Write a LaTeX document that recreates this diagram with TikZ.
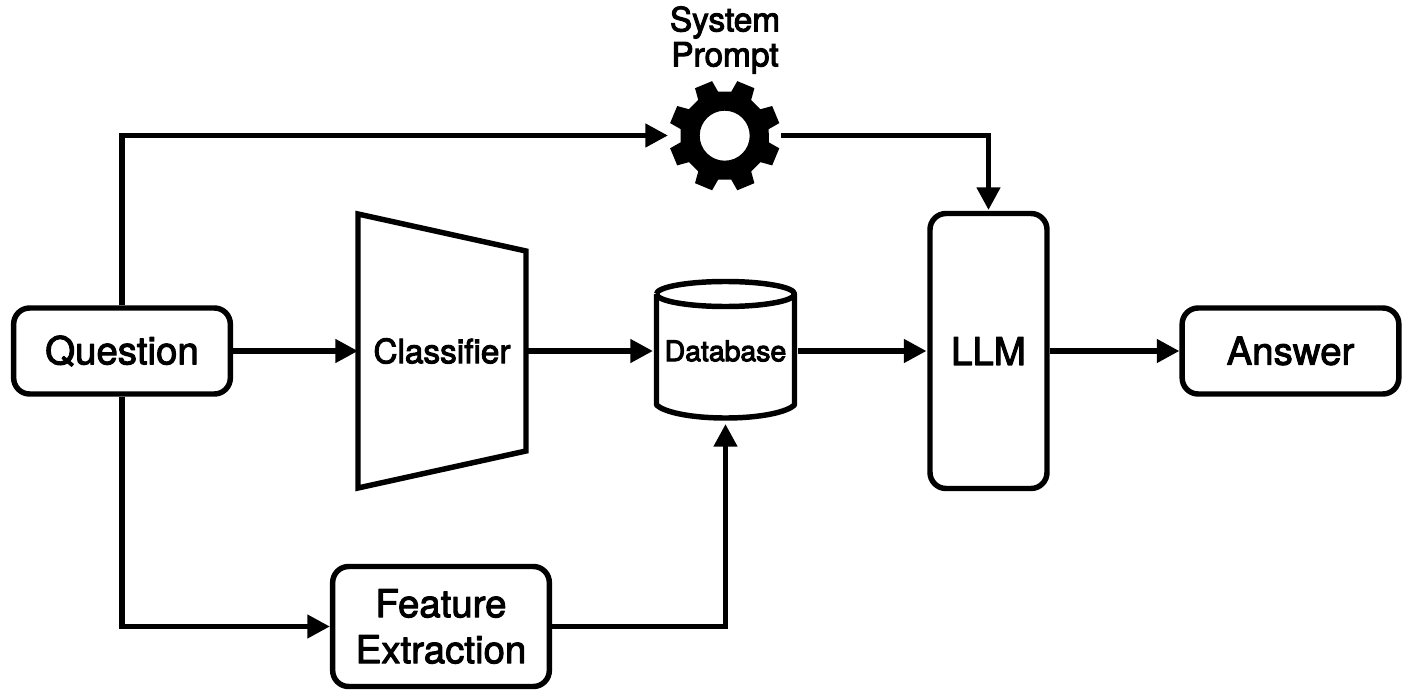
\documentclass[tikz,border=0pt]{standalone}
\usepackage{fontspec}
\setmainfont{TeX Gyre Heros}
\usetikzlibrary{arrows.meta,calc}
\newcommand{\medtext}{\special{pdf:literal 2 Tr 0.75 w}}
\tikzset{
  px/.style={x=0.75pt,y=-0.75pt},
  stroke/.style={line width=4.1pt,line join=round},
  box/.style={stroke,draw=black,rounded corners=12pt,inner sep=0pt,outer sep=2.05pt,align=center,font=\fontsize{28.8pt}{34.5pt}\selectfont\medtext},
  ghost/.style={inner sep=0pt,outer sep=0pt,align=center},
  conn/.style={stroke,line join=miter,-{Triangle[length=17pt,width=17pt]}},
}
\begin{document}
\begin{tikzpicture}[px]
\useasboundingbox (0,0) rectangle (1411,699);
% boxes
\node[box,minimum width=162.5pt,minimum height=64.5pt] (q) at (122,351) {Question};
\node[box,minimum width=162.5pt,minimum height=64.5pt] (ans) at (1290.5,351) {Answer};
\node[box,minimum width=87.75pt,minimum height=206.25pt,outer sep=2.6pt] (llm) at (988.5,351) {LLM};
\node[box,minimum width=162.5pt,minimum height=90pt] (fe) at (441,626.5) {Feature\\Extraction};
% classifier
\draw[stroke,line join=miter] (358,214) -- (526,251) -- (526,451) -- (358,488) -- cycle;
\node[ghost,minimum width=126pt,minimum height=204pt,font=\fontsize{25pt}{30pt}\selectfont\medtext] (cl) at (442,351) {Classifier};
% database
\draw[stroke] (656.5,294) arc[start angle=180,end angle=-180,x radius=69,y radius=12.5];
\draw[stroke] (656.5,294) -- (656.5,405) .. controls (664,412) and (690,418) .. (725.5,418) .. controls (761,418) and (787,412) .. (794.5,405) -- (794.5,294);
\node[ghost,minimum width=108.75pt,minimum height=109.5pt,font=\fontsize{21.3pt}{26pt}\selectfont\medtext] (db) at (725.5,351) {Database};
% gear
\begin{scope}[shift={(724.7,135.7)}]
\fill[even odd rule]
  (7.5:44.5)
  \foreach \k in {0,...,7} { -- ({22.5+45*\k-14}:44.5) -- ({22.5+45*\k-9.5}:56) -- ({22.5+45*\k+9.5}:56) -- ({22.5+45*\k+14}:44.5) }
  -- cycle
  (0,0) circle[radius=25];
\end{scope}
\node[ghost,minimum width=84.75pt,minimum height=84pt] (gear) at (724.5,135.5) {};
\node[ghost,font=\fontsize{25pt}{26.25pt}\selectfont\medtext] (sp) at (725,40) {System\\Prompt};
% connectors
\draw[conn] (q) -- (cl);
\draw[conn] (cl) -- (db);
\draw[conn] (db) -- (llm);
\draw[conn] (llm) -- (ans);
\draw[conn] (q.north) |- (gear.west);
\draw[conn] (gear.east) -| (llm.north);
\draw[conn] (q.south) |- (fe.west);
\draw[conn] (fe.east) -| (db.south);
\end{tikzpicture}
\end{document}
